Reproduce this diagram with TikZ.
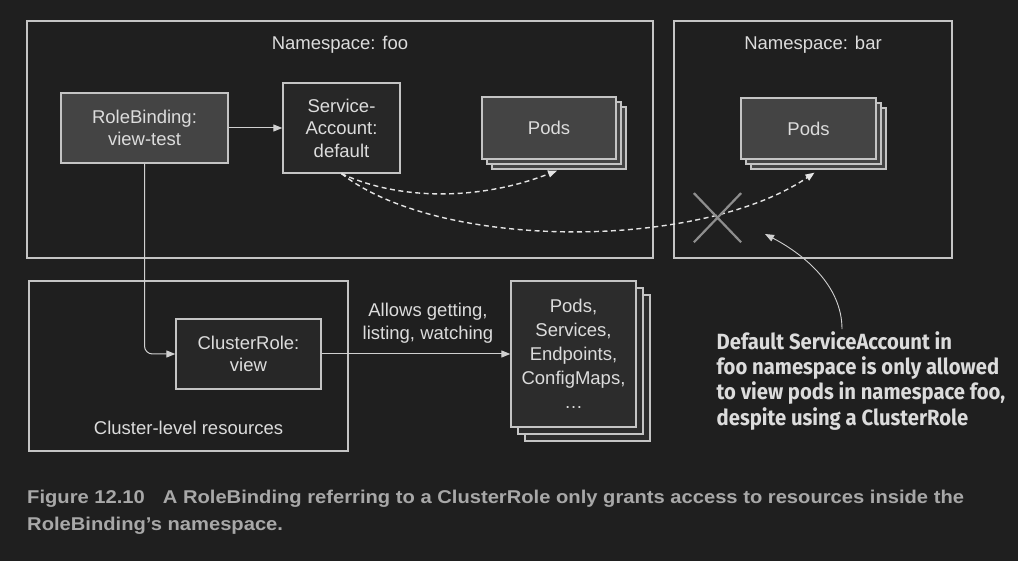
\documentclass[tikz,border=0pt]{standalone}
\usepackage{fontspec}
\setmainfont{Liberation Sans}
\newfontfamily\notefont[FakeStretch=0.92]{Fira Sans}
\newfontfamily\capfont[FakeStretch=1.09]{Liberation Sans}
\usepackage{tikz}
\usetikzlibrary{arrows.meta,calc,shadows,shapes.misc}
\definecolor{bg}{HTML}{1F1F1F}
\definecolor{edge}{HTML}{C4C4C4}
\definecolor{ink}{HTML}{DCDCDC}
\definecolor{wire}{HTML}{D0D0D0}
\definecolor{dashc}{HTML}{E4E4E4}
\definecolor{podfill}{HTML}{444444}
\definecolor{darkfill}{HTML}{272727}
\definecolor{resfill}{HTML}{2C2C2C}
\definecolor{crossc}{HTML}{8E8E8E}
\definecolor{capc}{HTML}{A8A8A8}

\begin{document}
\begin{tikzpicture}[x=1pt,y=-1pt,
  frame/.style={draw=edge,line width=1.3pt,inner sep=0pt},
  box/.style={draw=edge,line width=1.3pt,text=ink,inner sep=0pt,align=center,
    font=\fontsize{18.5}{22.5}\selectfont},
  stack/.style={double copy shadow={shadow xshift=#1,shadow yshift=-#1,draw=edge}},
  lbl/.style={text=ink,align=center,font=\fontsize{18.5}{22.5}\selectfont},
  arr/.style={draw=wire,line width=1pt,-{Triangle[length=9pt,width=7pt]}},
  reach/.style={draw=dashc,line width=1.4pt,dash pattern=on 5pt off 3.5pt,
    -{Triangle[length=9pt,width=7pt]}}]
\useasboundingbox (0,0) rectangle (1018,561);
\fill[bg] (0,0) rectangle (1018,561);

% namespaces and cluster scope
\node[frame,minimum width=626pt,minimum height=237pt] (foo) at (340,139.5) {};
\node[lbl] (foolbl) at (340,45) {Namespace: foo};
\node[frame,minimum width=278pt,minimum height=237pt] (bar) at (813,139.5) {};
\node[lbl] (barlbl) at (813,45) {Namespace: bar};
\node[frame,minimum width=319pt,minimum height=170pt] (cluster) at (188.5,366) {};
\node[lbl] (clulbl) at (188.5,428) {Cluster-level resources};

% objects
\node[box,fill=podfill,minimum width=167pt,minimum height=70pt] (rb) at (144.5,128) {RoleBinding:\\view-test};
\node[box,fill=darkfill,minimum width=117pt,minimum height=90pt] (sa) at (341.5,128) {Service-\\Account:\\default};
\node[box,fill=podfill,stack=5pt,minimum width=134pt,minimum height=62pt] (podsfoo) at (549,128) {Pods};
\node[box,fill=podfill,stack=5pt,minimum width=135pt,minimum height=61pt] (podsbar) at (808.5,128.5) {Pods};
\node[box,fill=darkfill,minimum width=145pt,minimum height=70pt] (cr) at (248.5,354) {ClusterRole:\\view};
\node[box,fill=resfill,stack=7pt,minimum width=125pt,minimum height=146pt,
  font=\fontsize{18.5}{24}\selectfont] (res) at (573.5,354) {Pods,\\Services,\\Endpoints,\\ConfigMaps,\\…};
\node[lbl] (allows) at (428,323) {Allows getting,\\listing, watching};

% bindings
\draw[arr] (rb) -- (sa);
\draw[arr,rounded corners=8pt] (rb.south) |- (cr.west);
\draw[arr] (cr) -- (res);

% what the account can reach
\draw[reach] (sa.south) .. controls +(58,27) and +(-77,30) .. ($(podsfoo.south)+(8,11)$);
\draw[reach] (sa.south) .. controls +(98,77) and +(-115,78) .. ($(podsbar.south)+(6,13)$);
\node[cross out,draw=crossc,line width=2.2pt,inner sep=0pt,minimum width=45pt,minimum height=47pt] (xmark) at (717.5,217.7) {};

% callout
\coordinate (tip) at (765,234);
\node[anchor=base west,inner sep=0pt,align=left,text=ink,
  font=\notefont\bfseries\fontsize{22}{25.3}\selectfont] (note) at (716.5,425)
  {Default ServiceAccount in\\foo namespace is only allowed\\to view pods in namespace foo,\\despite using a ClusterRole};
\draw[arr,line width=0.9pt] ($(note.north west)+(125.5,-2)$) .. controls +(0,-43) and +(40,21) .. (tip);

% caption
\node[anchor=base west,inner sep=0pt,align=left,text=capc,
  font=\capfont\bfseries\fontsize{18.5}{26.7}\selectfont] (caption) at (27,530.5)
  {Figure 12.10\hspace{18pt}A RoleBinding referring to a ClusterRole only grants access to resources inside the\\RoleBinding’s namespace.};
\end{tikzpicture}
\end{document}
